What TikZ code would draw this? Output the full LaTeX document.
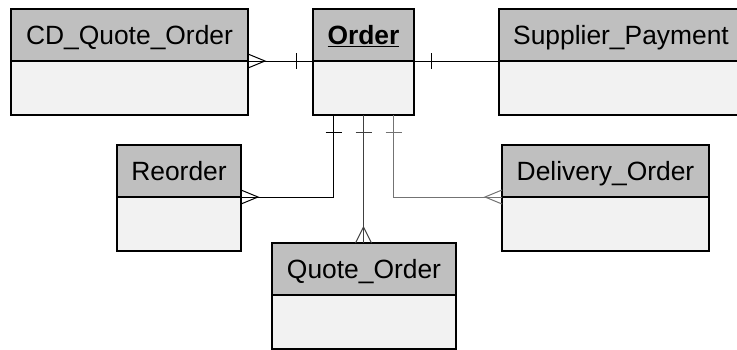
\documentclass[tikz,border=0pt]{standalone}
\usepackage{fontspec}
\setmainfont{Liberation Sans}
\usetikzlibrary{positioning}

\begin{document}
\begin{tikzpicture}[x=1pt, y=-1pt,
    ehead/.style = {draw=black, line width=2pt, fill=black!25, inner sep=0pt, outer sep=0pt,
                    minimum height=52pt, text height=19pt, text depth=0pt,
                    font=\fontsize{26.4}{30}\selectfont},
    ebody/.style = {draw=black, line width=2pt, fill=black!5, inner sep=0pt, outer sep=0pt,
                    minimum height=54pt},
    rel/.style = {line width=1pt}]
\useasboundingbox (0,0) rectangle (737,349);
% entities
\node[ehead, minimum width=237pt, anchor=north west] (cdh) at (11,9) {CD\_Quote\_Order};
\node[ebody, minimum width=237pt, below=0pt of cdh] (cdb) {};
\node[ehead, minimum width=101pt, anchor=north west] (ordh) at (313,9) {\textbf{\underline{Order}}};
\node[ebody, minimum width=101pt, below=0pt of ordh] (ordb) {};
\node[ehead, minimum width=244pt, anchor=north west] (suph) at (499,9) {Supplier\_Payment};
\node[ebody, minimum width=244pt, below=0pt of suph] (supb) {};
\node[ehead, minimum width=124pt, anchor=north west] (reoh) at (117,145) {Reorder};
\node[ebody, minimum width=124pt, below=0pt of reoh] (reob) {};
\node[ehead, minimum width=207pt, anchor=north west] (delh) at (502,145) {Delivery\_Order};
\node[ebody, minimum width=207pt, below=0pt of delh] (delb) {};
\node[ehead, minimum width=184pt, anchor=north west] (quoh) at (272,243) {Quote\_Order};
\node[ebody, minimum width=184pt, below=0pt of quoh] (quob) {};
% Order -- CD_Quote_Order
\draw[rel] (cdh.south east) -- (ordh.south west);
\draw[rel] ([yshift=7pt]cdh.south east) -- ++(17,7) -- ++(-17,7);
\draw[rel] ([xshift=-17pt,yshift=8pt]ordh.south west) -- ++(0,16);
% Order -- Supplier_Payment
\draw[rel] (ordh.south east) -- (suph.south west);
\draw[rel] ([xshift=17pt,yshift=8pt]ordh.south east) -- ++(0,16);
% Order -- Reorder
\draw[rel] ([xshift=-30pt]ordb.south) |- (reoh.south east);
\draw[rel] ([yshift=7pt]reoh.south east) -- ++(17,7) -- ++(-17,7);
\draw[rel] ([xshift=-38pt]ordb.south) ++(0,17) -- ++(16,0);
% Order -- Quote_Order
\draw[rel, black!75] (ordb.south) -- (ordb.south |- quoh.north);
\draw[rel, black!75] ([xshift=-8pt]ordb.south |- quoh.north) -- ++(8,-16) -- ++(8,16);
\draw[rel, black!75] ([xshift=-8pt]ordb.south) ++(0,17) -- ++(16,0);
% Order -- Delivery_Order
\draw[rel, black!55] ([xshift=30pt]ordb.south) |- (delh.south west);
\draw[rel, black!55] ([yshift=7pt]delh.south west) -- ++(-17,7) -- ++(17,7);
\draw[rel, black!55] ([xshift=22pt]ordb.south) ++(0,17) -- ++(16,0);
\end{tikzpicture}
\end{document}
